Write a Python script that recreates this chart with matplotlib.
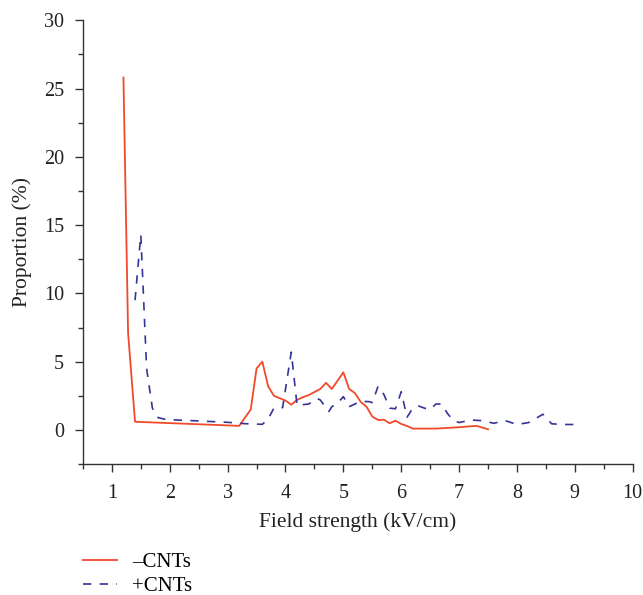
import matplotlib
matplotlib.use("Agg")
import matplotlib.pyplot as plt
from matplotlib.ticker import MultipleLocator

# data
x_minus = [1.2, 1.28, 1.4, 3.2, 3.4, 3.5, 3.6, 3.7, 3.8, 4.0, 4.1, 4.2, 4.3, 4.4,
           4.6, 4.7, 4.8, 5.0, 5.1, 5.2, 5.3, 5.4, 5.5, 5.6, 5.7, 5.8, 5.9, 6.0,
           6.1, 6.2, 6.4, 6.6, 6.8, 7.0, 7.2, 7.3, 7.5]
y_minus = [25.8, 7.1, 0.6, 0.3, 1.5, 4.5, 5.0, 3.2, 2.5, 2.15, 1.85, 2.2, 2.4, 2.55,
           3.0, 3.45, 3.0, 4.22, 3.0, 2.7, 2.05, 1.7, 0.98, 0.73, 0.75, 0.49, 0.68, 0.44,
           0.29, 0.1, 0.1, 0.1, 0.15, 0.2, 0.27, 0.3, 0.05]

x_plus = [1.4, 1.5, 1.6, 1.7, 1.8, 1.9, 2.0, 2.5, 3.0, 3.3, 3.6, 3.7, 3.8, 3.95,
          4.1, 4.2, 4.3, 4.4, 4.55, 4.6, 4.75, 4.8, 4.9, 5.0, 5.1, 5.2, 5.3, 5.45,
          5.5, 5.6, 5.7, 5.8, 5.9, 6.0, 6.1, 6.2, 6.3, 6.4, 6.5, 6.6, 6.7, 6.8,
          6.9, 7.0, 7.2, 7.4, 7.6, 7.8, 8.0, 8.2, 8.45, 8.6, 8.8, 9.1]
y_plus = [9.5, 14.3, 4.5, 1.6, 0.9, 0.8, 0.75, 0.66, 0.56, 0.46, 0.41, 0.8, 1.6, 1.63,
          5.7, 1.8, 1.85, 1.9, 2.3, 2.2, 1.35, 1.7, 1.95, 2.44, 1.7, 1.9, 2.1, 2.07,
          2.0, 3.2, 2.6, 1.6, 1.55, 2.8, 0.93, 1.6, 1.75, 1.6, 1.5, 1.9, 1.9, 1.2,
          0.7, 0.54, 0.73, 0.68, 0.49, 0.68, 0.4, 0.54, 1.15, 0.45, 0.4, 0.4]

plt.rcParams['font.family'] = ['Liberation Serif', 'DejaVu Serif']

fig = plt.figure(figsize=(6.43, 5.95), dpi=100)
ax = fig.add_axes([0.129, 0.220, 0.855, 0.746])

l1, = ax.plot(x_minus, y_minus, color='#f2492b', linewidth=1.3, label='–CNTs')
l2, = ax.plot(x_plus, y_plus, color='#343596', linewidth=1.2,
              linestyle=(0, (5, 5)), label='+CNTs')

ax.set_xlim(0.5, 10)
ax.set_ylim(-2.5, 30)
ax.xaxis.set_major_locator(MultipleLocator(1))
ax.xaxis.set_minor_locator(MultipleLocator(0.5))
ax.yaxis.set_major_locator(MultipleLocator(5))
ax.yaxis.set_minor_locator(MultipleLocator(2.5))

for s in ['top', 'right']:
    ax.spines[s].set_visible(False)
for s in ['left', 'bottom']:
    ax.spines[s].set_color('#333333')
    ax.spines[s].set_linewidth(1.0)

ax.tick_params(which='major', direction='out', length=5.5, width=1.0,
               colors='#333333', labelsize=14.5, labelcolor='#222222')
ax.tick_params(which='minor', direction='out', length=3.5, width=1.0, colors='#333333')
ax.tick_params(axis='x', which='major', pad=8.5)
ax.tick_params(axis='y', which='major', pad=8)

ax.set_xlabel('Field strength (kV/cm)', fontsize=15.5, color='#222222', labelpad=7)
ax.set_ylabel('Proportion (%)', fontsize=15.5, color='#222222', labelpad=9)

fig.legend(handles=[l1, l2], loc='center left', bbox_to_anchor=(0.116, 0.035),
           frameon=False, fontsize=15, handlelength=1.65, handletextpad=0.7,
           labelspacing=0.2, borderaxespad=0)

fig.savefig('out.png', dpi=100)
